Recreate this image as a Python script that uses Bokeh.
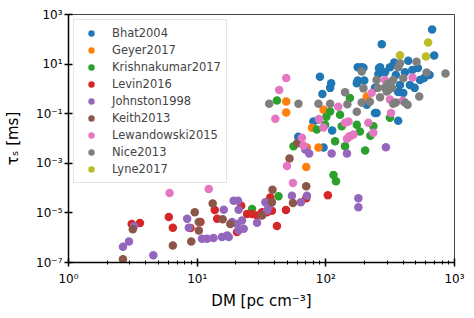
from bokeh.plotting import figure
from bokeh.models import FixedTicker, CustomJSTickFormatter, Legend
from bokeh.embed import file_html
from bokeh.resources import INLINE

# ---- data (DM [pc cm^-3], tau_s [ms]) ----
bhat_dm = [670, 272, 695, 90, 110, 108, 94, 177, 196, 177, 199, 259, 256, 315, 340, 437, 264, 190,
           288, 350, 412, 470, 520, 540, 450, 377, 306, 241, 365, 490, 580, 640, 88, 80, 248, 365,
           112, 96, 61, 208, 241, 400, 174]
bhat_tau = [251, 63, 22.4, 3.1, 1.7, 1.1, 0.62, 7.4, 7.1, 2.2, 2.2, 6.8, 4.0, 7.4, 11.7, 13.5, 7.4, 7.4,
            4.7, 3.6, 4.7, 5.8, 7.0, 2.3, 1.45, 1.45, 0.9, 1.1, 0.75, 1.1, 2.75, 3.6, 0.058, 0.049, 0.107, 0.052,
            0.021, 0.0043, 0.0117, 0.23, 0.107, 0.68, 1.7]

geyer_dm = [49.2, 49.2, 96, 78, 87.6, 70.4, 71.3, 152, 208]
geyer_tau = [0.31, 0.112, 0.145, 0.027, 0.0043, 7.1e-4, 0.0043, 0.012, 0.49]

krish_dm = [41.7, 108, 101, 98.8, 129, 154, 141, 202, 56.1, 114.6, 120, 174, 184, 222, 85, 133, 118,
            315, 234, 42.9, 26.7]
krish_tau = [0.34, 0.123, 0.075, 0.036, 0.091, 0.43, 0.0049, 0.0033, 0.0049, 3.4e-4, 1.9e-4, 0.036, 0.019,
             0.013, 0.023, 0.031, 0.0078, 0.068, 0.031, 4.7e-5, 1.45e-5]

levin_dm = [3.10, 3.59, 6.02, 6.47, 8.87, 10.6, 13.7, 14.3, 22, 24.4, 26.7, 20.4, 29.2, 31.9, 34.9, 37,
            38.1, 49, 41.7, 70.4, 103.7]
levin_tau = [3.6e-6, 3.9e-6, 6.8e-6, 2.5e-6, 2.45e-6, 4.3e-6, 1.32e-5, 5.8e-6, 1.95e-5, 9.1e-6, 9.1e-6,
             1.7e-6, 7.8e-6, 1.07e-5, 1.07e-5, 4.2e-5, 1.23e-5, 1.32e-5, 2.95e-6, 3.9e-5, 5.2e-5]

johnston_dm = [2.65, 2.95, 3.23, 4.56, 8.36, 8.61, 10.9, 11.95, 13.4, 15.6, 17.1, 16.1, 19.2, 20.8, 21,
               18.7, 20.4, 22.3, 21, 23, 17.6, 29.2, 33.9, 34.9, 35.9, 54.5, 71.3, 64, 179, 179, 111,
               146, 293, 69.2, 74.2]
johnston_tau = [4.3e-7, 7.1e-7, 2.9e-6, 1.95e-7, 5.8e-6, 2.5e-6, 9.1e-7, 9.1e-7, 9.8e-7, 1.07e-6, 1.23e-6,
                1.35e-5, 3.1e-5, 3.1e-5, 1.35e-5, 4.3e-6, 3.6e-6, 4.9e-6, 1.95e-6, 2.3e-6, 1.07e-6, 4e-6,
                2.7e-5, 1.23e-5, 1.7e-5, 4.9e-5, 4.9e-5, 2.7e-5, 3.9e-5, 1.7e-5, 0.0025, 0.0025, 0.0044,
                0.0036, 0.0025]

keith_dm = [2.65, 3.16, 6.47, 9.58, 10.3, 10.3, 9.0, 13.2, 15.8, 18.1, 31.9, 38.5, 38.1, 55.5, 70.4, 52.2, 60]
keith_tau = [1.35e-7, 2.2e-6, 4.9e-7, 1.07e-5, 4.3e-6, 1.95e-6, 7.1e-7, 2.4e-5, 5.5e-6, 3.6e-6, 7.8e-6,
             8.5e-5, 2.7e-5, 2.5e-5, 1.2e-4, 1.55e-3, 6.5e-3]

lewan_dm = [6.1, 12.3, 55.5, 49.9, 49.2, 43.4, 40.5, 65.2, 67, 88.7, 95.8, 125, 150, 141, 154, 146, 164,
            214, 234, 227, 321, 395, 315, 288, 472]
lewan_tau = [6.3e-5, 9.1e-5, 1.6e-4, 7.8e-4, 2.75, 0.91, 0.063, 0.0107, 0.0052, 0.06, 0.028, 0.19, 0.049,
             0.043, 0.0123, 0.0098, 0.0145, 0.043, 0.017, 0.68, 0.107, 0.33, 0.37, 2.3, 2.9]

nice_dm = [36.3, 61.3, 87.6, 108, 141, 147, 190, 196, 365, 377, 507, 607, 851, 400, 253, 288, 327, 297,
           190, 174, 220, 264, 350, 412, 334, 432, 532, 248, 334, 303]
nice_tau = [0.25, 0.25, 0.25, 0.25, 0.74, 0.24, 5.0, 1.05, 7.4, 10.7, 12.3, 4.6, 4.2, 2.7, 1.1, 1.1, 1.1,
            0.78, 0.28, 0.12, 0.3, 0.46, 0.28, 0.28, 0.25, 0.23, 0.49, 2.3, 2.3, 1.6]

lyne_dm = [624, 377, 600]
lyne_tau = [73.8, 22.9, 20.4]

series = [
    ("Bhat2004", bhat_dm, bhat_tau, "#1f77b4"),
    ("Geyer2017", geyer_dm, geyer_tau, "#ff7f0e"),
    ("Krishnakumar2017", krish_dm, krish_tau, "#2ca02c"),
    ("Levin2016", levin_dm, levin_tau, "#d62728"),
    ("Johnston1998", johnston_dm, johnston_tau, "#9467bd"),
    ("Keith2013", keith_dm, keith_tau, "#8c564b"),
    ("Lewandowski2015", lewan_dm, lewan_tau, "#e377c2"),
    ("Nice2013", nice_dm, nice_tau, "#7f7f7f"),
    ("Lyne2017", lyne_dm, lyne_tau, "#bcbd22"),
]

FONT = "DejaVu Sans"

p = figure(width=470, height=312, x_axis_type="log", y_axis_type="log",
           x_range=(1, 1000), y_range=(1e-7, 1e3),
           output_backend="svg", toolbar_location=None,
           min_border_left=68, min_border_right=16, min_border_top=14, min_border_bottom=48)

p.grid.visible = False
p.outline_line_color = "#444444"
p.outline_line_width = 1

legend = Legend(location="top_left", margin=5, padding=5, spacing=1,
                glyph_width=24, glyph_height=16, label_height=16,
                label_standoff=9, label_text_font=FONT, label_text_font_size="11.5px",
                border_line_color="#cccccc", border_line_width=1,
                background_fill_color="white", background_fill_alpha=0.85)
p.add_layout(legend)

for name, xs, ys, col in series:
    p.scatter(xs, ys, size=8.5, color=col, line_color=None, legend_label=name)

fmt_code = """
const e = Math.round(Math.log10(tick));
const m = {'-':'\u207b','0':'\u2070','1':'\u00b9','2':'\u00b2','3':'\u00b3','4':'\u2074','5':'\u2075','6':'\u2076','7':'\u2077','8':'\u2078','9':'\u2079'};
return '10' + String(e).split('').map(c => m[c]).join('');
"""
minor_x = [m * 10 ** k for k in range(0, 3) for m in range(2, 10)]
p.xaxis.ticker = FixedTicker(ticks=[1, 10, 100, 1000], minor_ticks=minor_x)
p.yaxis.ticker = FixedTicker(ticks=[1e-7, 1e-5, 1e-3, 1e-1, 1e1, 1e3], minor_ticks=[])
p.xaxis.formatter = CustomJSTickFormatter(code=fmt_code)
p.yaxis.formatter = CustomJSTickFormatter(code=fmt_code)

for ax in (p.xaxis, p.yaxis):
    ax.axis_line_color = "black"
    ax.axis_line_width = 1.5
    ax.major_tick_line_color = "black"
    ax.major_tick_line_width = 1.5
    ax.minor_tick_line_color = "black"
    ax.major_tick_in = 4
    ax.major_tick_out = 4
    ax.minor_tick_in = 2
    ax.minor_tick_out = 2
    ax.major_label_text_font = FONT
    ax.major_label_text_font_size = "12px"
    ax.major_label_text_color = "black"
    ax.axis_label_text_font = FONT
    ax.axis_label_text_font_size = "15px"
    ax.axis_label_text_font_style = "normal"
    ax.axis_label_text_color = "black"

p.xaxis.axis_label = "DM [pc cm\u207b\u00b3]"
p.yaxis.axis_label = "\u03c4\u209b [ms]"
p.xaxis.major_label_standoff = 5
p.yaxis.major_label_standoff = 2
p.xaxis.axis_label_standoff = 3
p.yaxis.axis_label_standoff = 11

open("out.html", "w").write(file_html(p, INLINE))
